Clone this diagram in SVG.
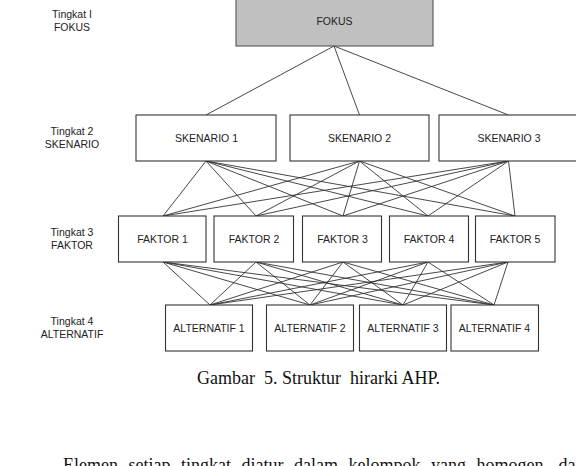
<svg xmlns="http://www.w3.org/2000/svg" width="576" height="466" viewBox="0 0 576 466">
<style>
.box{fill:#fff;stroke:#333;stroke-width:1.1}
.focus{fill:#c0c0c0;stroke:#555;stroke-width:1.1}
.t{font-family:"Liberation Sans",Arial,sans-serif;font-size:10.5px;fill:#222;text-anchor:middle}
.lbl{font-family:"Liberation Sans",Arial,sans-serif;font-size:10.5px;fill:#222;text-anchor:middle}
.cap{font-family:"Liberation Serif","Times New Roman",serif;font-size:18px;fill:#111}
#connectors line{stroke:#333;stroke-width:0.9}
</style>
<rect width="576" height="466" fill="#fff"/>
<g id="labels">
<text class="lbl" x="72" y="18">Tingkat I</text>
<text class="lbl" x="72" y="31">FOKUS</text>
<text class="lbl" x="72" y="135">Tingkat 2</text>
<text class="lbl" x="72" y="148">SKENARIO</text>
<text class="lbl" x="72" y="236">Tingkat 3</text>
<text class="lbl" x="72" y="249">FAKTOR</text>
<text class="lbl" x="72" y="325">Tingkat 4</text>
<text class="lbl" x="72" y="338">ALTERNATIF</text>
</g>
<g id="connectors">
<line x1="334" y1="46" x2="206" y2="115"/>
<line x1="334" y1="46" x2="359.5" y2="115"/>
<line x1="334" y1="46" x2="508.5" y2="115"/>
<line x1="206" y1="161" x2="163" y2="216"/>
<line x1="206" y1="161" x2="256" y2="216"/>
<line x1="206" y1="161" x2="343" y2="216"/>
<line x1="206" y1="161" x2="428" y2="216"/>
<line x1="206" y1="161" x2="515" y2="216"/>
<line x1="359.5" y1="161" x2="163" y2="216"/>
<line x1="359.5" y1="161" x2="256" y2="216"/>
<line x1="359.5" y1="161" x2="343" y2="216"/>
<line x1="359.5" y1="161" x2="428" y2="216"/>
<line x1="359.5" y1="161" x2="515" y2="216"/>
<line x1="508.5" y1="161" x2="163" y2="216"/>
<line x1="508.5" y1="161" x2="256" y2="216"/>
<line x1="508.5" y1="161" x2="343" y2="216"/>
<line x1="508.5" y1="161" x2="428" y2="216"/>
<line x1="508.5" y1="161" x2="515" y2="216"/>
<line x1="163" y1="262" x2="210" y2="305"/>
<line x1="163" y1="262" x2="310" y2="305"/>
<line x1="163" y1="262" x2="403" y2="305"/>
<line x1="163" y1="262" x2="494" y2="305"/>
<line x1="256" y1="262" x2="210" y2="305"/>
<line x1="256" y1="262" x2="310" y2="305"/>
<line x1="256" y1="262" x2="403" y2="305"/>
<line x1="256" y1="262" x2="494" y2="305"/>
<line x1="343" y1="262" x2="210" y2="305"/>
<line x1="343" y1="262" x2="310" y2="305"/>
<line x1="343" y1="262" x2="403" y2="305"/>
<line x1="343" y1="262" x2="494" y2="305"/>
<line x1="428" y1="262" x2="210" y2="305"/>
<line x1="428" y1="262" x2="310" y2="305"/>
<line x1="428" y1="262" x2="403" y2="305"/>
<line x1="428" y1="262" x2="494" y2="305"/>
<line x1="508" y1="262" x2="210" y2="305"/>
<line x1="508" y1="262" x2="310" y2="305"/>
<line x1="508" y1="262" x2="403" y2="305"/>
<line x1="508" y1="262" x2="494" y2="305"/>
</g>
<g id="fokus"><rect class="focus" x="236" y="-2" width="197" height="48"/><text class="t" x="334.5" y="25">FOKUS</text></g>
<g id="skenario1"><rect class="box" x="136" y="115" width="140" height="46"/><text class="t" x="206.5" y="142">SKENARIO 1</text></g>
<g id="skenario2"><rect class="box" x="290" y="115" width="139" height="46"/><text class="t" x="359.5" y="142">SKENARIO 2</text></g>
<g id="skenario3"><rect class="box" x="439" y="115" width="140" height="46"/><text class="t" x="509" y="142">SKENARIO 3</text></g>
<g id="faktor1"><rect class="box" x="118.5" y="216" width="87.5" height="46"/><text class="t" x="162.5" y="243">FAKTOR 1</text></g>
<g id="faktor2"><rect class="box" x="214" y="216" width="79.5" height="46"/><text class="t" x="254" y="243">FAKTOR 2</text></g>
<g id="faktor3"><rect class="box" x="302.5" y="216" width="79" height="46"/><text class="t" x="342.5" y="243">FAKTOR 3</text></g>
<g id="faktor4"><rect class="box" x="389.5" y="216" width="79" height="46"/><text class="t" x="429" y="243">FAKTOR 4</text></g>
<g id="faktor5"><rect class="box" x="475.5" y="216" width="79.5" height="46"/><text class="t" x="515" y="243">FAKTOR 5</text></g>
<g id="alternatif1"><rect class="box" x="165.5" y="305" width="87" height="46"/><text class="t" x="209" y="332">ALTERNATIF 1</text></g>
<g id="alternatif2"><rect class="box" x="266.5" y="305" width="87" height="46"/><text class="t" x="310" y="332">ALTERNATIF 2</text></g>
<g id="alternatif3"><rect class="box" x="359.5" y="305" width="87" height="46"/><text class="t" x="403" y="332">ALTERNATIF 3</text></g>
<g id="alternatif4"><rect class="box" x="451" y="305" width="87.5" height="46"/><text class="t" x="494.5" y="332">ALTERNATIF 4</text></g>
<text class="cap" x="197" y="384" xml:space="preserve">Gambar  5. Struktur  hirarki AHP.</text>
<text class="cap" x="63" y="471" word-spacing="6">Elemen setiap tingkat diatur dalam kelompok yang homogen, dan</text>
</svg>
